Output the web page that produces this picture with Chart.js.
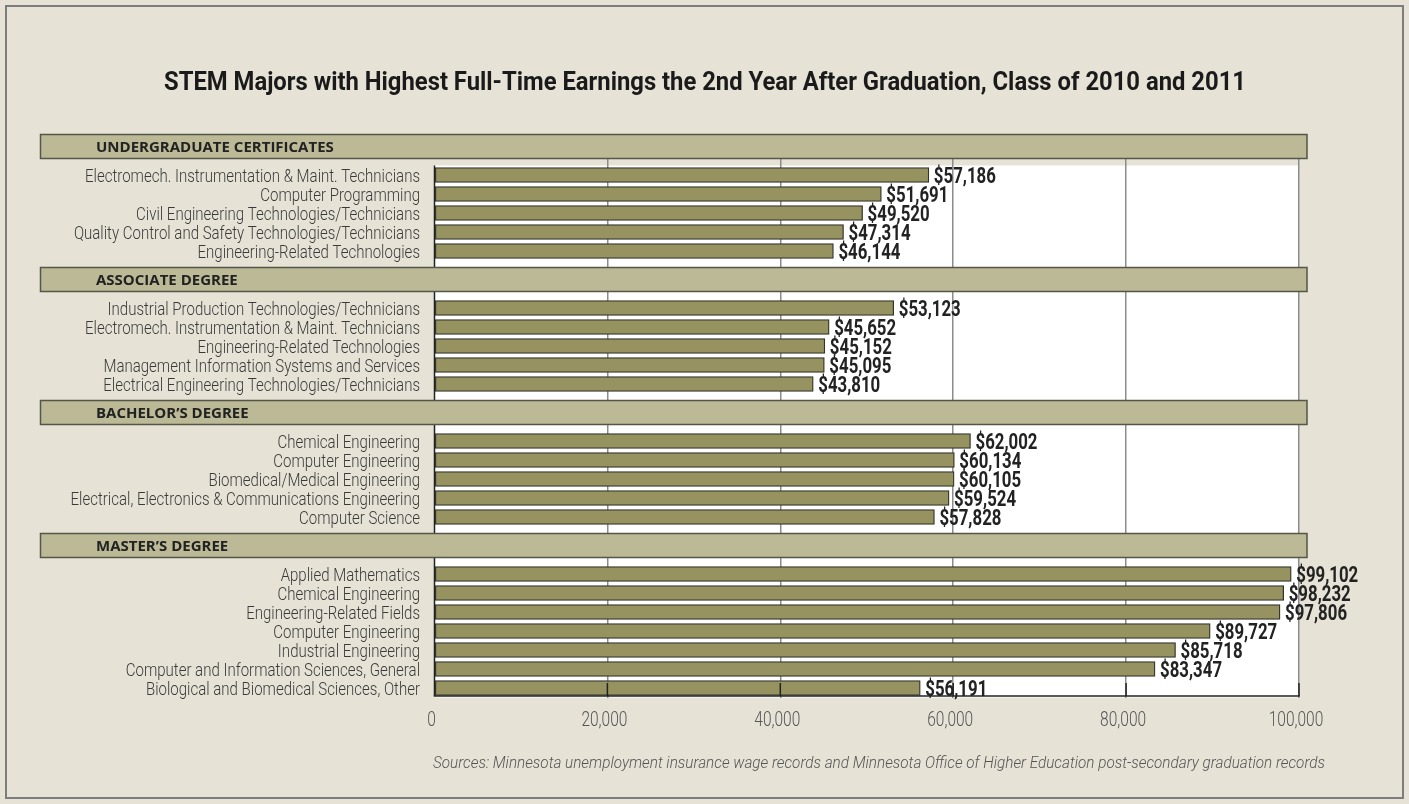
<!DOCTYPE html>
<html><head><meta charset="utf-8">
<script src="https://cdn.jsdelivr.net/npm/chart.js@4.4.1/dist/chart.umd.min.js"></script>
<style>html,body{margin:0;padding:0;background:#e6e2d6;} #wrap{width:1409px;height:804px;position:relative}</style>
</head><body><div id="wrap"><canvas id="c" width="1409" height="804"></canvas></div>
<script>
const chartTitle = 'STEM Majors with Highest Full-Time Earnings the 2nd Year After Graduation, Class of 2010 and 2011';
const sourceNote = 'Sources: Minnesota unemployment insurance wage records and Minnesota Office of Higher Education post-secondary graduation records';
const sectionNames = ['UNDERGRADUATE CERTIFICATES', 'ASSOCIATE DEGREE', 'BACHELOR\u2019S DEGREE', 'MASTER\u2019S DEGREE'];

const undergradMajors = ['Electromech. Instrumentation & Maint. Technicians', 'Computer Programming', 'Civil Engineering Technologies/Technicians', 'Quality Control and Safety Technologies/Technicians', 'Engineering-Related Technologies'];
const undergradEarnings = [57186, 51691, 49520, 47314, 46144];

const associateMajors = ['Industrial Production Technologies/Technicians', 'Electromech. Instrumentation & Maint. Technicians', 'Engineering-Related Technologies', 'Management Information Systems and Services', 'Electrical Engineering Technologies/Technicians'];
const associateEarnings = [53123, 45652, 45152, 45095, 43810];

const bachelorMajors = ['Chemical Engineering', 'Computer Engineering', 'Biomedical/Medical Engineering', 'Electrical, Electronics & Communications Engineering', 'Computer Science'];
const bachelorEarnings = [62002, 60134, 60105, 59524, 57828];

const masterMajors = ['Applied Mathematics', 'Chemical Engineering', 'Engineering-Related Fields', 'Computer Engineering', 'Industrial Engineering', 'Computer and Information Sciences, General', 'Biological and Biomedical Sciences, Other'];
const masterEarnings = [99102, 98232, 97806, 89727, 85718, 83347, 56191];

const xTickValues = [0, 20000, 40000, 60000, 80000, 100000];

const sections = [
  { name: sectionNames[0], majors: undergradMajors, earnings: undergradEarnings },
  { name: sectionNames[1], majors: associateMajors, earnings: associateEarnings },
  { name: sectionNames[2], majors: bachelorMajors, earnings: bachelorEarnings },
  { name: sectionNames[3], majors: masterMajors, earnings: masterEarnings }
];

const labels = [], values = [], headerSlots = [];
sections.forEach(s => {
  headerSlots.push(labels.length);
  labels.push('', ''); values.push(null, null);
  s.majors.forEach((m, i) => { labels.push(m); values.push(s.earnings[i]); });
});

const FAM = "Roboto, 'Liberation Sans', sans-serif";
const BG = '#e6e2d6';
const fmt = v => v.toLocaleString('en-US');

// condensed text emulation: horizontal squeeze fitted to a sample width
function squeeze(ctx, font, sample, targetW) {
  ctx.save(); ctx.font = font; const w = ctx.measureText(sample).width; ctx.restore();
  return Math.min(1, targetW / w);
}
function condText(ctx, text, x, y, font, sx, align, color) {
  ctx.save();
  ctx.font = font; ctx.fillStyle = color; ctx.textAlign = align; ctx.textBaseline = 'alphabetic';
  ctx.translate(x, y); ctx.scale(sx, 1);
  ctx.fillText(text, 0, 0);
  ctx.restore();
}

const F_TITLE = 'bold 26px ' + FAM;
const F_CAT = '300 18px ' + FAM;
const F_VAL = 'bold 22px ' + FAM;
const F_TICK = '300 21px ' + FAM;
const F_SRC = 'italic 300 17px ' + FAM;

const decor = {
  id: 'decor',
  beforeDraw(chart) {
    const { ctx, chartArea: a, scales: { x, y } } = chart;
    ctx.save();
    ctx.fillStyle = BG; ctx.fillRect(0, 0, chart.width, chart.height);
    const slot = y.getPixelForValue(1) - y.getPixelForValue(0);
    const whiteTop = y.getPixelForValue(headerSlots[0] + 2) - slot / 2;
    ctx.fillStyle = '#ffffff';
    ctx.fillRect(x.left, whiteTop, x.right - x.left, a.bottom - whiteTop);
    ctx.strokeStyle = '#7d7d7d'; ctx.lineWidth = 2;
    ctx.strokeRect(6, 6, 1397, 792);
    ctx.restore();
    condText(ctx, chartTitle, 705, 90, F_TITLE, squeeze(ctx, F_TITLE, chartTitle, 1082), 'center', '#1a1a1a');
    condText(ctx, sourceNote, 1325, 768, F_SRC, squeeze(ctx, F_SRC, sourceNote, 892), 'right', '#555555');
  },
  beforeDatasetsDraw(chart) {
    const { ctx, chartArea: a, scales: { x, y } } = chart;
    ctx.save();
    const slot = y.getPixelForValue(1) - y.getPixelForValue(0);
    const whiteTop = y.getPixelForValue(headerSlots[0] + 2) - slot / 2;
    // left axis line (under the section bands)
    ctx.strokeStyle = '#222222'; ctx.lineWidth = 1.5;
    ctx.beginPath(); ctx.moveTo(x.left, whiteTop); ctx.lineTo(x.left, a.bottom - 1.5); ctx.stroke();
    headerSlots.forEach((h, k) => {
      const cy = (y.getPixelForValue(h) + y.getPixelForValue(h + 1)) / 2;
      if (k === 0) {
        ctx.fillStyle = BG;
        ctx.fillRect(x.left - 3, a.top - 1, x.right - x.left + 6, cy - 12 - a.top + 1);
      }
      ctx.fillStyle = '#bcb996';
      ctx.fillRect(40.5, cy - 12, 1266.5, 24);
      ctx.strokeStyle = '#555548'; ctx.lineWidth = 1.5;
      ctx.strokeRect(40.5, cy - 12, 1266.5, 24);
      ctx.fillStyle = '#222222';
      ctx.font = 'bold 15px "Open Sans", sans-serif';
      ctx.textAlign = 'left'; ctx.textBaseline = 'middle';
      ctx.fillText(sections[k].name, 96, cy + 1);
    });
    ctx.restore();

    // category labels, placed on the category scale
    const sxCat = squeeze(ctx, F_CAT, 'Electromech. Instrumentation & Maint. Technicians', 335);
    labels.forEach((lab, i) => {
      if (!lab) return;
      condText(ctx, lab, x.left - 14.5, y.getPixelForValue(i) + 6.5, F_CAT, sxCat, 'right', '#3a3a3a');
    });
    // x tick labels, placed on the value scale
    const sxTick = squeeze(ctx, F_TICK, '20,000', 46);
    xTickValues.forEach(v => {
      condText(ctx, fmt(v), x.getPixelForValue(v) - 3, 726, F_TICK, sxTick, 'center', '#555555');
    });
  },
  afterDatasetsDraw(chart) {
    const { ctx, chartArea: a, scales: { x } } = chart;
    const meta = chart.getDatasetMeta(0);
    const sxVal = squeeze(ctx, F_VAL, '$57,186', 62);
    meta.data.forEach((bar, i) => {
      if (values[i] == null) return;
      condText(ctx, '$' + fmt(values[i]), bar.x + 5, bar.y + 8, F_VAL, sxVal, 'left', '#222222');
    });
    ctx.save();
    const by = a.bottom - 1.5;
    ctx.strokeStyle = '#222222'; ctx.lineWidth = 1.5;
    ctx.beginPath(); ctx.moveTo(x.left - 0.75, by); ctx.lineTo(x.right + 0.75, by); ctx.stroke();
    xTickValues.forEach(v => {
      if (v === 0) return;
      const px = x.getPixelForValue(v);
      ctx.beginPath(); ctx.moveTo(px, by); ctx.lineTo(px, by - 13); ctx.stroke();
    });
    ctx.restore();
  }
};

new Chart(document.getElementById('c'), {
  type: 'bar',
  data: {
    labels: labels,
    datasets: [{
      data: values,
      backgroundColor: '#969360',
      borderColor: '#33332a',
      borderWidth: 1.3,
      borderSkipped: false,
      barThickness: 15
    }]
  },
  options: {
    indexAxis: 'y',
    responsive: false,
    animation: false,
    devicePixelRatio: 1,
    layout: { padding: { top: 127.5, right: 110, left: 0, bottom: 0 } },
    plugins: { legend: { display: false }, tooltip: { enabled: false } },
    scales: {
      x: {
        type: 'linear', min: 0, max: 100000, position: 'bottom',
        afterBuildTicks: s => { s.ticks = xTickValues.map(v => ({ value: v })); },
        afterFit: s => { s.height = 804 - 697.5; },
        grid: { color: c => (c.tick && c.tick.value === 0) ? 'rgba(0,0,0,0)' : '#8c8c8c', lineWidth: 1.5, drawTicks: false },
        border: { display: false },
        ticks: { display: false }
      },
      y: {
        afterFit: s => { s.width = 434.5; },
        grid: { display: false, drawTicks: false },
        border: { display: false },
        ticks: { display: false, autoSkip: false }
      }
    }
  },
  plugins: [decor]
});
</script>
</body></html>
